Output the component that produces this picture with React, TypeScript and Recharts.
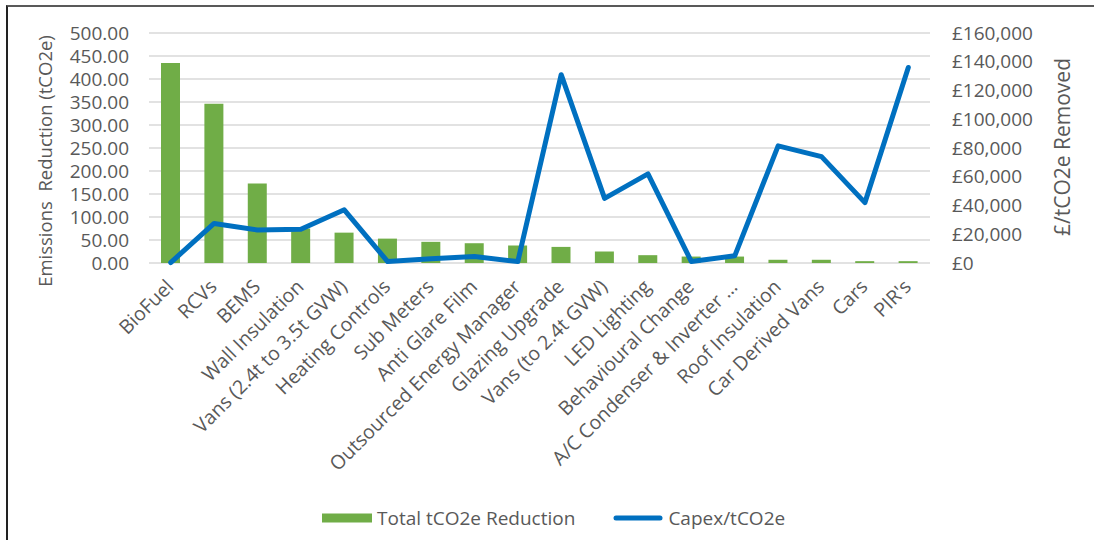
import React from 'react';
import {
  ComposedChart,
  Bar,
  Line,
  XAxis,
  YAxis,
  CartesianGrid,
  Legend,
} from 'recharts';

const categories = [
  'BioFuel',
  'RCVs',
  'BEMS',
  'Wall Insulation',
  'Vans (2.4t to 3.5t GVW)',
  'Heating Controls',
  'Sub Meters',
  'Anti Glare Film',
  'Outsourced Energy Manager',
  'Glazing Upgrade',
  'Vans (to 2.4t GVW)',
  'LED Lighting',
  'Behavioural Change',
  'A/C Condenser & Inverter ...',
  'Roof Insulation',
  'Car Derived Vans',
  'Cars',
  "PIR's",
];

const reduction = [435, 346, 173, 75, 66, 53, 46, 43, 38, 35, 25, 17, 14, 14, 7, 7, 4, 4];

const capex = [
  300, 27500, 23000, 23500, 37000, 1000, 3000, 4500, 1000, 131000, 45000, 62000, 1000, 5000,
  81500, 74000, 42000, 136000,
];

const leftTicks = [0, 50, 100, 150, 200, 250, 300, 350, 400, 450, 500];
const rightTicks = [0, 20000, 40000, 60000, 80000, 100000, 120000, 140000, 160000];

const data = categories.map((name, i) => ({
  name,
  reduction: reduction[i],
  capex: capex[i],
}));

const FONT = '"Open Sans", "Noto Sans", sans-serif';
const TEXT = '#595959';
const GREEN = '#70AD47';
const BLUE = '#0070C0';

const XTick = (props: any) => {
  const { x, y, payload } = props;
  return (
    <g transform={`translate(${x + 4},${y + 17})`}>
      <text
        x={0}
        y={0}
        textAnchor="end"
        transform="rotate(-45)"
        fill={TEXT}
        fontFamily={FONT}
        fontSize={19.5}
      >
        {payload.value}
      </text>
    </g>
  );
};

const LeftTitle = (props: any) => {
  const vb = props.viewBox || {};
  const cx = vb.x + 52;
  const cy = vb.y + vb.height / 2 + 13;
  return (
    <text
      x={cx}
      y={cy}
      textAnchor="middle"
      transform={`rotate(-90, ${cx}, ${cy})`}
      fill={TEXT}
      fontFamily={FONT}
      fontSize={18.5}
      style={{ whiteSpace: 'pre' }}
    >
      {'Emissions  Reduction (tCO2e)'}
    </text>
  );
};

const RightTitle = (props: any) => {
  const vb = props.viewBox || {};
  const cx = vb.x + 140;
  const cy = vb.y + vb.height / 2 - 1;
  return (
    <text
      x={cx}
      y={cy}
      textAnchor="middle"
      transform={`rotate(-90, ${cx}, ${cy})`}
      fill={TEXT}
      fontFamily={FONT}
      fontSize={21}
    >
      £/tCO2e Removed
    </text>
  );
};

const LegendContent = (props: any) => {
  const payload = [...(props.payload || [])].sort(
    (a: any, b: any) => (a.type === 'line' ? 1 : 0) - (b.type === 'line' ? 1 : 0)
  );
  return (
    <div
      style={{
        display: 'flex',
        alignItems: 'center',
        fontFamily: FONT,
        fontSize: 19,
        color: TEXT,
        whiteSpace: 'nowrap',
      }}
    >
      {payload.map((entry: any, i: number) => (
        <div
          key={i}
          style={{ display: 'flex', alignItems: 'center', marginLeft: i === 0 ? 0 : 38 }}
        >
          <svg width={50} height={10} style={{ display: 'block' }}>
            {entry.type === 'line' ? (
              <line
                x1={3}
                x2={47}
                y1={5}
                y2={5}
                stroke={entry.color}
                strokeWidth={5}
                strokeLinecap="round"
              />
            ) : (
              <rect x={0} y={0.5} width={50} height={9} fill={entry.color} />
            )}
          </svg>
          <span style={{ marginLeft: 5 }}>{entry.value}</span>
        </div>
      ))}
    </div>
  );
};

export default function App() {
  return (
    <div
      style={{
        position: 'absolute',
        left: 0,
        top: 0,
        width: 1094,
        height: 540,
        background: '#fff',
        overflow: 'hidden',
      }}
    >
      <div
        style={{
          position: 'absolute',
          left: 6,
          top: 5,
          right: -5,
          bottom: -5,
          borderTop: '2px solid #595959',
          borderLeft: '2px solid #222',
        }}
      />
      <div style={{ position: 'absolute', left: 0, top: 0 }}>
        <ComposedChart
          width={1094}
          height={540}
          data={data}
          margin={{ top: 33, right: 0, bottom: 0, left: 0 }}
        >
          <CartesianGrid
            yAxisId="left"
            vertical={false}
            stroke="#d9d9d9"
            strokeWidth={1.5}
          />
          <XAxis
            dataKey="name"
            interval={0}
            height={277}
            tick={<XTick />}
            tickLine={false}
            axisLine={false}
          />
          <YAxis
            yAxisId="left"
            orientation="left"
            width={149}
            domain={[0, 500]}
            ticks={leftTicks}
            interval={0}
            tickFormatter={(v: number) => v.toFixed(2)}
            tick={{ fill: TEXT, fontFamily: FONT, fontSize: 19 }}
            tickLine={false}
            axisLine={false}
            tickSize={6}
            tickMargin={14}
            label={<LeftTitle />}
          />
          <YAxis
            yAxisId="right"
            orientation="right"
            width={164}
            domain={[0, 160000]}
            ticks={rightTicks}
            interval={0}
            tickFormatter={(v: number) => '£' + v.toLocaleString('en-GB')}
            tick={{ fill: TEXT, fontFamily: FONT, fontSize: 19, textAnchor: 'start' }}
            tickLine={false}
            axisLine={false}
            tickSize={6}
            tickMargin={16}
            label={<RightTitle />}
          />
          <Bar
            yAxisId="left"
            dataKey="reduction"
            name="Total tCO2e Reduction"
            fill={GREEN}
            barSize={19}
            isAnimationActive={false}
          />
          <Line
            yAxisId="right"
            dataKey="capex"
            name="Capex/tCO2e"
            stroke={BLUE}
            strokeWidth={5}
            strokeLinejoin="round"
            strokeLinecap="round"
            dot={false}
            activeDot={false}
            isAnimationActive={false}
          />
          <Legend
            layout="horizontal"
            verticalAlign="middle"
            align="center"
            wrapperStyle={{ top: 505, left: 322, width: 600, height: 26 }}
            content={<LegendContent />}
          />
        </ComposedChart>
      </div>
    </div>
  );
}
